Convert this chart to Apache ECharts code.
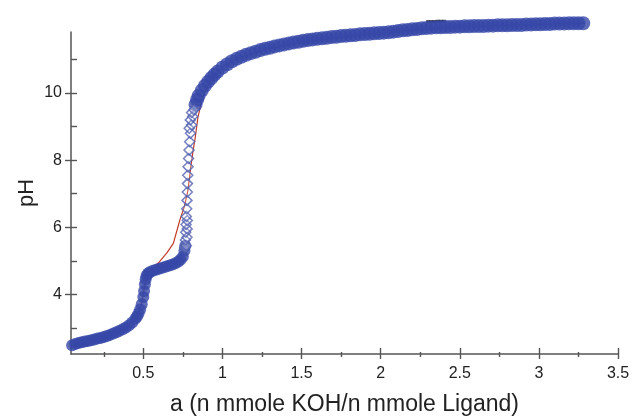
<!DOCTYPE html>
<html><head><meta charset="utf-8">
<script src="https://cdn.jsdelivr.net/npm/echarts@6/dist/echarts.min.js"></script>
<style>html,body{margin:0;padding:0;background:#fff}#c{width:632px;height:417px}</style>
</head><body><div id="c"></div>
<script>
// ---- tick labels / ranges ----
const xTickLabels = [0.5, 1, 1.5, 2, 2.5, 3, 3.5];
const xMinorTicks = [0.25, 0.75, 1.25, 1.75, 2.25, 2.75, 3.25];
const yTickLabels = [4, 6, 8, 10];
const yAllTicks = [3, 4, 5, 6, 7, 8, 9, 10, 11];
const xRange = [0.043, 3.5];
const yRange = [2.22, 11.82];
const xTitle = 'a (n mmole KOH/n mmole Ligand)';
const yTitle = 'pH';

// ---- measured titration points (dense part), [a, pH] ----
const measuredLow = [
  [0.05,2.48],[0.07,2.52],[0.09,2.55],[0.11,2.57],[0.13,2.59],[0.15,2.61],[0.17,2.63],[0.19,2.65],
  [0.21,2.68],[0.23,2.70],[0.25,2.73],[0.27,2.76],[0.29,2.79],[0.31,2.83],[0.33,2.87],[0.35,2.91],
  [0.37,2.96],[0.39,3.01],[0.41,3.08],[0.43,3.16],[0.45,3.27],[0.46,3.34],[0.47,3.43],[0.48,3.55],
  [0.49,3.70],[0.50,3.92],[0.505,4.10],[0.51,4.30],[0.515,4.45],[0.52,4.55],[0.53,4.62],[0.54,4.66],
  [0.56,4.70],[0.58,4.73],[0.60,4.76],[0.62,4.79],[0.64,4.82],[0.66,4.85],[0.68,4.88],[0.70,4.92],
  [0.72,4.97],[0.735,5.03],[0.75,5.12],[0.76,5.30],[0.765,5.45]
];
// ---- measured points in the steep jump (sparse, open diamonds) ----
const measuredSteep = [
  [0.762,5.40],[0.772,5.45],[0.766,5.62],[0.776,5.70],[0.768,5.85],[0.777,5.95],[0.770,6.08],
  [0.778,6.20],[0.772,6.32],[0.774,6.55],[0.776,6.80],[0.778,7.05],
  [0.779,7.30],[0.781,7.55],[0.783,7.80],[0.786,8.05],[0.789,8.30],[0.793,8.55],[0.798,8.80],
  [0.790,8.95],[0.805,9.05],[0.797,9.20],[0.812,9.30],[0.805,9.42],[0.820,9.50]
];
// ---- measured points, upper plateau (dense) ----
const measuredHigh = [
  [0.83,9.65],[0.84,9.80],[0.85,9.92],[0.87,10.08],[0.89,10.22],[0.91,10.34],[0.93,10.45],[0.95,10.55],
  [0.97,10.64],[1.00,10.76],[1.03,10.86],[1.06,10.95],[1.09,11.02],[1.12,11.08],[1.15,11.14],[1.18,11.19],
  [1.21,11.23],[1.24,11.28],[1.27,11.32],[1.30,11.35],[1.33,11.39],[1.36,11.42],[1.39,11.45],[1.42,11.48],
  [1.45,11.51],[1.48,11.53],[1.51,11.56],[1.54,11.58],[1.57,11.60],[1.60,11.62],[1.63,11.63],[1.66,11.65],
  [1.69,11.67],[1.72,11.68],[1.75,11.70],[1.78,11.71],[1.81,11.72],[1.84,11.73],[1.87,11.75],[1.90,11.76],
  [1.93,11.77],[1.96,11.78],[1.99,11.79],[2.02,11.80],[2.05,11.81],[2.08,11.83],[2.11,11.85],[2.14,11.87],
  [2.17,11.88],[2.20,11.90],[2.23,11.91],[2.26,11.93],[2.29,11.94],[2.32,11.95],[2.35,11.96],[2.38,11.96],
  [2.41,11.97],[2.44,11.97],[2.47,11.98],[2.50,11.98],[2.53,11.99],[2.56,11.99],[2.59,12.00],[2.62,12.00],
  [2.65,12.00],[2.68,12.01],[2.71,12.01],[2.74,12.02],[2.77,12.02],[2.80,12.02],[2.83,12.03],[2.86,12.03],
  [2.89,12.03],[2.92,12.04],[2.95,12.04],[2.98,12.05],[3.01,12.05],[3.04,12.06],[3.07,12.06],[3.10,12.07],
  [3.13,12.07],[3.16,12.07],[3.19,12.08],[3.22,12.08],[3.25,12.08],[3.28,12.08]
];
// ---- calculated (fitted) curve ----
const fitCurve = [
  [0.05,2.45],[0.20,2.66],[0.30,2.81],[0.40,3.04],[0.46,3.34],[0.49,3.72],[0.51,4.30],[0.53,4.60],
  [0.56,4.78],[0.60,4.96],[0.65,5.24],[0.69,5.52],[0.73,6.20],[0.76,6.62],[0.782,7.10],[0.80,7.80],
  [0.815,8.30],[0.826,8.60],[0.845,9.27],[0.87,9.80],[0.92,10.35],[1.00,10.78],[1.10,11.05],[1.25,11.27],
  [1.50,11.52],[2.00,11.80],[2.50,11.97],[3.00,12.05],[3.29,12.08]
];
// ---- a few dark points of another data set ----
const darkPoints = [
  [0.06,2.46],[0.08,2.49],[0.10,2.47],[0.12,2.49],[0.14,2.50],
  [2.30,12.13],[2.32,12.13],[2.34,12.13],[2.36,12.14],[2.38,12.14],[2.40,12.14]
];

const font = '"Liberation Sans", Arial, Helvetica, sans-serif';
const axisColor = '#555';
const textColor = '#222';

function baseX(extra) {
  return Object.assign({
    type: 'value', gridIndex: 0, position: 'bottom', min: xRange[0], max: xRange[1],
    splitLine: { show: false },
    axisLine: { show: false, onZero: false },
    axisLabel: { show: false },
    axisTick: { show: false }
  }, extra);
}
function baseY(extra) {
  return Object.assign({
    type: 'value', gridIndex: 0, position: 'left', min: yRange[0], max: yRange[1],
    splitLine: { show: false },
    axisLine: { show: false, onZero: false },
    axisLabel: { show: false },
    axisTick: { show: false }
  }, extra);
}
const tickStyle = { color: axisColor, width: 1.4 };
const bandColor = '#3647a8';

const chart = echarts.init(document.getElementById('c'), null, { renderer: 'canvas' });
chart.setOption({
  animation: false,
  backgroundColor: '#fff',
  grid: { left: 71, right: 14, top: 32, bottom: 63, containLabel: false, outerBoundsMode: 'none' },
  xAxis: [
    baseX({
      axisLine: { show: true, onZero: false, lineStyle: { color: axisColor, width: 1.5 } },
      axisTick: { show: true, inside: false, length: 5, customValues: xTickLabels, lineStyle: tickStyle },
      axisLabel: { show: true, customValues: xTickLabels, fontSize: 16, color: textColor, fontFamily: font, margin: 12,
                   formatter: v => String(v) },
      name: xTitle, nameLocation: 'middle', nameGap: 39,
      nameTextStyle: { fontSize: 23, color: textColor, fontFamily: font }
    }),
    baseX({ axisTick: { show: true, inside: true, length: 6, customValues: xTickLabels, lineStyle: tickStyle } }),
    baseX({ axisTick: { show: true, inside: false, length: 3, customValues: xMinorTicks, lineStyle: tickStyle } }),
    baseX({ axisTick: { show: true, inside: true, length: 2, customValues: xMinorTicks, lineStyle: tickStyle } })
  ],
  yAxis: [
    baseY({
      axisLine: { show: true, onZero: false, lineStyle: { color: axisColor, width: 1.5 } },
      axisTick: { show: true, inside: false, length: 6, customValues: yTickLabels, lineStyle: tickStyle },
      axisLabel: { show: true, customValues: yTickLabels, fontSize: 16, color: textColor, fontFamily: font, margin: 9 },
      name: yTitle, nameLocation: 'middle', nameGap: 33, nameMoveOverlap: false,
      nameTextStyle: { fontSize: 22, color: textColor, fontFamily: font }
    }),
    baseY({ axisTick: { show: true, inside: true, length: 6, customValues: yAllTicks, lineStyle: tickStyle } })
  ],
  series: [
    {
      type: 'scatter', data: darkPoints, clip: false, z: 1,
      symbol: 'rect', symbolSize: [4, 3], itemStyle: { color: '#1a1a2a' }, silent: true
    },
    {
      type: 'line', data: fitCurve, clip: false, z: 2, symbol: 'none',
      lineStyle: { color: '#c23b2a', width: 1.2 }, silent: true
    },
    {
      type: 'scatter', data: measuredLow, clip: false, z: 3,
      symbol: 'circle', symbolSize: 12,
      itemStyle: { color: bandColor }, silent: true
    },
    {
      type: 'scatter', data: measuredHigh, clip: false, z: 3,
      symbol: 'circle', symbolSize: 14,
      itemStyle: { color: bandColor }, silent: true
    },
    {
      type: 'scatter', data: measuredSteep, clip: false, z: 4,
      symbol: 'diamond', symbolSize: 10,
      itemStyle: { color: 'rgba(255,255,255,0.25)', borderColor: '#5262b2', borderWidth: 1.5 }, silent: true
    }
  ]
});
</script>
</body></html>
